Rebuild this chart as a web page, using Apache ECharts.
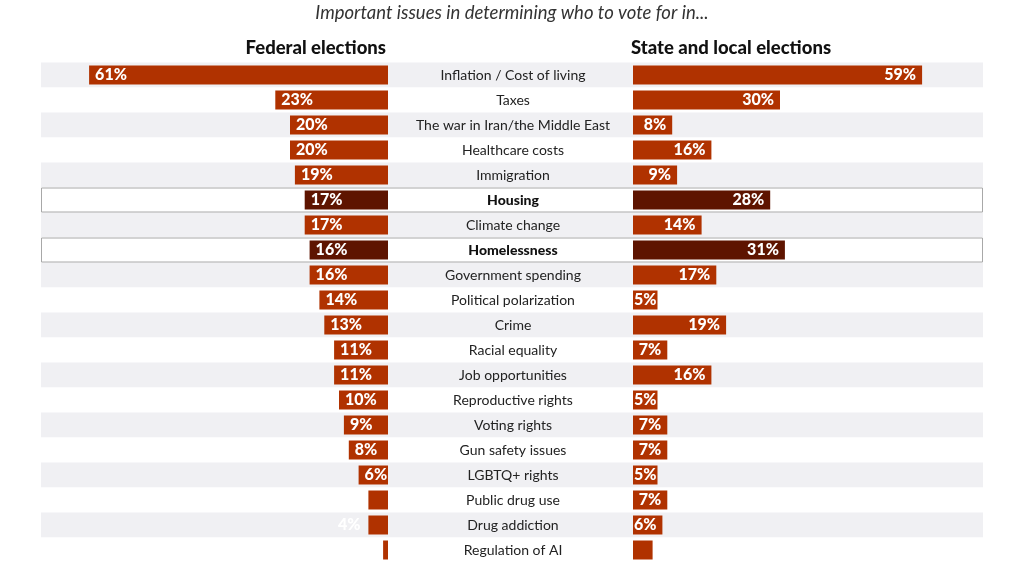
<!DOCTYPE html>
<html>
<head>
<meta charset="utf-8">
<script src="https://cdn.jsdelivr.net/npm/echarts@6/dist/echarts.min.js"></script>
<style>
  html, body { margin: 0; padding: 0; background: #fff; }
  #chart-panel { width: 1024px; height: 576px; }
</style>
</head>
<body>
<div id="chart-panel"></div>
<script>
var issues = ['Inflation / Cost of living', 'Taxes', 'The war in Iran/the Middle East', 'Healthcare costs',
    'Immigration', 'Housing', 'Climate change', 'Homelessness', 'Government spending',
    'Political polarization', 'Crime', 'Racial equality', 'Job opportunities', 'Reproductive rights',
    'Voting rights', 'Gun safety issues', 'LGBTQ+ rights', 'Public drug use', 'Drug addiction', 'Regulation of AI'];
var federal = [61, 23, 20, 20, 19, 17, 17, 16, 16, 14, 13, 11, 11, 10, 9, 8, 6, 4, 4, 1];
var stateLocal = [59, 30, 8, 16, 9, 28, 14, 31, 17, 5, 19, 7, 16, 5, 7, 7, 5, 7, 6, 4];
// how each value label is shown: 'in' = inside bar, 'out' = outside, 'none' = hidden
var federalLabels = ['in', 'in', 'in', 'in', 'in', 'in', 'in', 'in', 'in', 'in', 'in', 'in', 'in', 'in', 'in', 'in', 'in', 'none', 'out', 'none'];
var stateLabels = ['in', 'in', 'in', 'in', 'in', 'in', 'in', 'in', 'in', 'in', 'in', 'in', 'in', 'in', 'in', 'in', 'in', 'in', 'in', 'none'];
var highlighted = ['Housing', 'Homelessness'];

var RED = '#b03200';
var DARK = '#5e1400';
var FONT = 'Lato';
var pxPerPct = 4.9;

function barData(values, modes, side) {
    return values.map(function (v, i) {
        var hl = highlighted.indexOf(issues[i]) >= 0;
        var item = { value: v, itemStyle: { color: hl ? DARK : RED } };
        if (modes[i] === 'none') {
            item.label = { show: false };
        } else if (modes[i] === 'out') {
            item.label = { position: side === 'left' ? 'left' : 'right', distance: 8 };
        } else if (v <= 5) {
            // tight bars: let the label fill the bar
            item.label = { position: side === 'left' ? 'insideRight' : 'insideLeft', distance: 1 };
        }
        return item;
    });
}

var frameData = issues.map(function (name) {
    return highlighted.indexOf(name) >= 0 ? 1 : null;
});

var barLabel = {
    show: true,
    color: '#fff',
    fontFamily: FONT,
    fontWeight: 900,
    fontSize: 16,
    formatter: '{c}%'
};

var option = {
    animation: false,
    backgroundColor: '#fff',
    graphic: [
        { type: 'text', left: 'center', top: 4,
          style: { text: 'Important issues in determining who to vote for in...', fontFamily: FONT,
                   fontStyle: 'italic', fontSize: 18.5, fill: '#333' } },
        { type: 'text', x: 386, y: 48,
          style: { text: 'Federal elections', fontFamily: FONT, fontWeight: 900, fontSize: 18.5,
                   fill: '#111', align: 'right', verticalAlign: 'middle' } },
        { type: 'text', x: 631, y: 48,
          style: { text: 'State and local elections', fontFamily: FONT, fontWeight: 900, fontSize: 18.5,
                   fill: '#111', align: 'left', verticalAlign: 'middle' } }
    ],
    grid: [
        { left: 41, width: 347, top: 62.5, height: 500 },
        { left: 633, width: 350, top: 62.5, height: 500 },
        { left: 41, right: 41, top: 62.5, height: 500 }
    ],
    xAxis: [
        { type: 'value', gridIndex: 0, min: 0, max: 347 / pxPerPct, inverse: true, show: false },
        { type: 'value', gridIndex: 1, min: 0, max: 350 / pxPerPct, show: false },
        { type: 'value', gridIndex: 2, min: 0, max: 1, show: false }
    ],
    yAxis: [
        { type: 'category', gridIndex: 0, data: issues, inverse: true, position: 'right', z: 10,
          axisLine: { show: false }, axisTick: { show: false }, splitLine: { show: false },
          axisLabel: {
              margin: 125, align: 'center', fontFamily: FONT, fontSize: 14, color: '#222',
              formatter: function (v) { return highlighted.indexOf(v) >= 0 ? '{b|' + v + '}' : v; },
              rich: { b: { fontFamily: FONT, fontSize: 14, fontWeight: 900, color: '#111' } }
          } },
        { type: 'category', gridIndex: 1, data: issues, inverse: true, show: false },
        { type: 'category', gridIndex: 2, data: issues, inverse: true,
          axisLine: { show: false }, axisTick: { show: false }, axisLabel: { show: false },
          splitLine: { show: false },
          splitArea: { show: true, interval: 0, areaStyle: { color: ['#f0f0f3', '#ffffff'] } } }
    ],
    series: [
        { type: 'bar', xAxisIndex: 2, yAxisIndex: 2, data: frameData, barWidth: '100%', z: 1,
          itemStyle: { color: '#fff', borderColor: '#a8a8a8', borderWidth: 1 }, silent: true },
        { type: 'bar', name: 'Federal elections', xAxisIndex: 0, yAxisIndex: 0, barWidth: 19, z: 3,
          data: barData(federal, federalLabels, 'left'),
          label: Object.assign({ position: 'insideLeft', distance: 6 }, barLabel) },
        { type: 'bar', name: 'State and local elections', xAxisIndex: 1, yAxisIndex: 1, barWidth: 19, z: 3,
          data: barData(stateLocal, stateLabels, 'right'),
          label: Object.assign({ position: 'insideRight', distance: 6 }, barLabel) }
    ]
};

var chart = echarts.init(document.getElementById('chart-panel'));
chart.setOption(option);
</script>
</body>
</html>
